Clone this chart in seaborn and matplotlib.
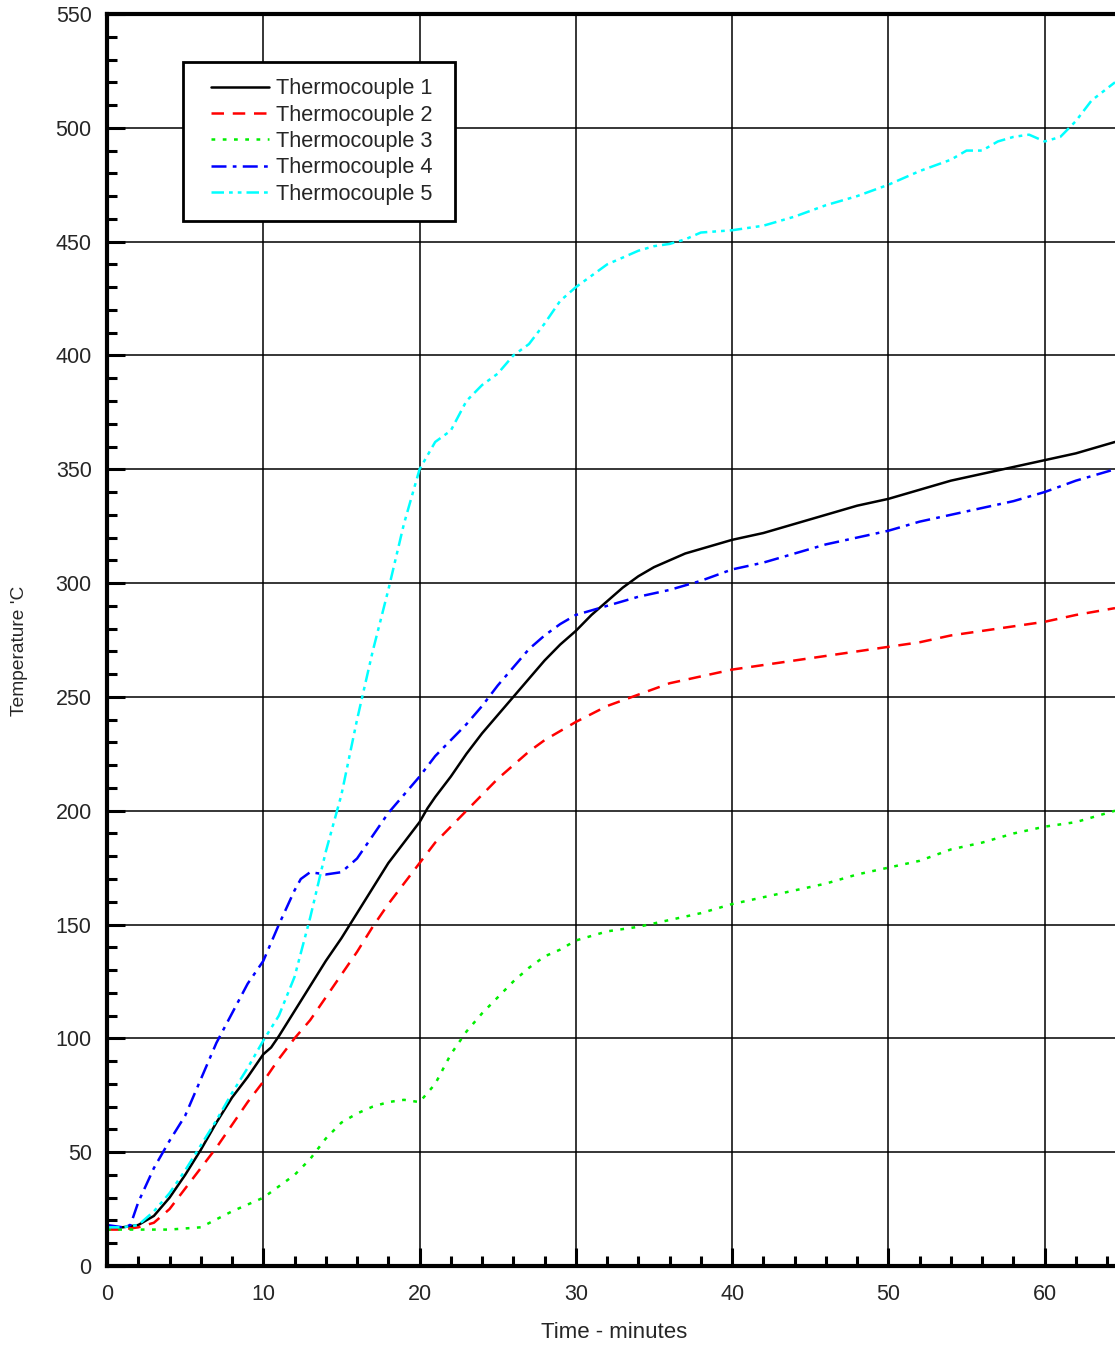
import numpy as np
import pandas as pd
import matplotlib
matplotlib.use("Agg")
import matplotlib.pyplot as plt
from matplotlib.lines import Line2D
from matplotlib.legend_handler import HandlerLine2D
from matplotlib.ticker import MultipleLocator
import seaborn as sns

# Temperature readings (deg C) against time (minutes)
t1_time = [0, 1, 2, 3, 4, 5, 6, 7, 8, 9, 9.5, 10, 10.5, 11, 12, 13, 14, 15, 16, 17, 18, 19, 20,
           20.5, 21, 22, 23, 24, 25, 26, 27, 28, 29, 30, 31, 32, 33, 34, 35, 36, 37, 38, 39, 40,
           42, 44, 46, 48, 50, 52, 54, 56, 58, 60, 62, 63.5, 64.5]
t1_temp = [17, 17, 18, 22, 30, 40, 51, 63, 74, 83, 88, 93, 96, 101, 112, 123, 134, 144, 155, 166, 177, 186, 195,
           201, 206, 215, 225, 234, 242, 250, 258, 266, 273, 279, 286, 292, 298, 303, 307, 310, 313, 315, 317, 319,
           322, 326, 330, 334, 337, 341, 345, 348, 351, 354, 357, 360, 362]

t2_time = [0, 1, 2, 3, 4, 5, 6, 7, 8, 9, 10, 11, 12, 13, 14, 15, 16, 17, 18, 19, 20,
           21, 22, 23, 24, 25, 26, 27, 28, 29, 30, 32, 34, 36, 38, 40, 42, 44, 46, 48, 50,
           52, 54, 56, 58, 60, 62, 64.5]
t2_temp = [16, 16, 17, 19, 25, 34, 43, 52, 62, 72, 81, 91, 100, 108, 118, 128, 138, 149, 159, 168, 177,
           186, 193, 200, 207, 214, 220, 226, 231, 235, 239, 246, 251, 256, 259, 262, 264, 266, 268, 270, 272,
           274, 277, 279, 281, 283, 286, 289]

t3_time = [0, 2, 4, 6, 8, 10, 12, 13, 14, 15, 16, 17, 18, 19, 20, 21, 22, 23, 24, 25, 26, 27, 28, 29, 30,
           32, 34, 36, 38, 40, 42, 44, 46, 48, 50, 52, 54, 56, 58, 60, 62, 64.5]
t3_temp = [16, 16, 16, 17, 24, 30, 40, 47, 56, 63, 67, 70, 72, 73, 72, 80, 93, 103, 111, 118, 125, 131, 136, 139, 143,
           147, 149, 152, 155, 159, 162, 165, 168, 172, 175, 178, 183, 186, 190, 193, 195, 200]

t4_time = [0, 1, 1.5, 2, 3, 4, 5, 6, 7, 8, 9, 10, 11, 12, 12.4, 13, 14, 15, 16, 17, 18, 19, 20,
           21, 22, 23, 24, 25, 26, 27, 28, 29, 30, 32, 34, 36, 38, 40, 42, 44, 46, 48, 50,
           52, 54, 56, 58, 60, 62, 64.5]
t4_temp = [18, 17, 18, 28, 43, 55, 66, 82, 98, 111, 124, 134, 150, 165, 170, 173, 172, 173, 179, 189, 199, 207, 215,
           224, 231, 238, 246, 255, 263, 271, 277, 282, 286, 290, 294, 297, 301, 306, 309, 313, 317, 320, 323,
           327, 330, 333, 336, 340, 345, 350]

t5_time = [0, 1, 2, 3, 4, 5, 6, 7, 8, 9, 10, 11, 12, 13, 14, 15, 16, 17, 18, 19, 20,
           21, 22, 23, 24, 25, 26, 27, 28, 29, 30, 31, 32, 33, 34, 35, 36, 37, 38, 40,
           42, 44, 46, 48, 50, 52, 54, 55, 56, 57, 58, 59, 60, 61, 62, 63, 64.5]
t5_temp = [17, 17, 18, 24, 32, 42, 53, 64, 76, 87, 99, 110, 127, 153, 182, 207, 240, 270, 297, 326, 350,
           362, 367, 380, 387, 392, 400, 405, 414, 424, 430, 435, 440, 443, 446, 448, 449, 451, 454, 455,
           457, 461, 466, 470, 475, 481, 486, 490, 490, 494, 496, 497, 494, 496, 503, 512, 520]

series = ["Thermocouple 1", "Thermocouple 2", "Thermocouple 3", "Thermocouple 4", "Thermocouple 5"]
times = [t1_time, t2_time, t3_time, t4_time, t5_time]
temps = [t1_temp, t2_temp, t3_temp, t4_temp, t5_temp]

frames = []
for name, x, y in zip(series, times, temps):
    frames.append(pd.DataFrame({"Time": x, "Temperature": y, "Sensor": name}))
df = pd.concat(frames, ignore_index=True)

colors = {"Thermocouple 1": "black", "Thermocouple 2": "#ff0000", "Thermocouple 3": "#00ee00",
          "Thermocouple 4": "#0000ff", "Thermocouple 5": "#00ffff"}
dashes = {"Thermocouple 1": "",
          "Thermocouple 2": (5, 3.5),
          "Thermocouple 3": (1.5, 3),
          "Thermocouple 4": (6, 2.5, 1.5, 2.5),
          "Thermocouple 5": (5, 2, 1.5, 2, 1.5, 2)}


# legend sample line drawn only over the right part of the handle box (extra left padding)
class PaddedLine(HandlerLine2D):
    def get_xdata(self, legend, xdescent, ydescent, width, height, fontsize):
        xd = np.array([-xdescent + 0.17 * width, -xdescent + width])
        return xd, xd


sns.set_style("white")
plt.rcParams['font.family'] = ['Liberation Sans', 'DejaVu Sans']

fig = plt.figure(figsize=(11.15, 13.45), dpi=100)
ax = fig.add_axes([107 / 1115, 79 / 1345, 1008 / 1115, 1252 / 1345])

sns.lineplot(data=df, x="Time", y="Temperature", hue="Sensor", style="Sensor",
             palette=colors, dashes=dashes, linewidth=1.8, sort=False, ax=ax)

ax.set_xlim(0, 64.5)
ax.set_ylim(0, 550)
ax.xaxis.set_major_locator(MultipleLocator(10))
ax.xaxis.set_minor_locator(MultipleLocator(2))
ax.yaxis.set_major_locator(MultipleLocator(50))
ax.yaxis.set_minor_locator(MultipleLocator(10))
ax.grid(True, which="major", color="black", linewidth=1.1)
ax.tick_params(which="major", direction="in", length=13, width=2.2, labelsize=15.5,
               pad=11, bottom=True, left=True, top=False, right=False, color="black")
ax.tick_params(axis="x", which="major", pad=13)
ax.tick_params(which="minor", direction="in", length=7, width=2.2,
               bottom=True, left=True, top=False, right=False, color="black")

for side in ["left", "bottom", "top"]:
    ax.spines[side].set_linewidth(3)
    ax.spines[side].set_color("black")
ax.spines["right"].set_visible(False)

ax.set_xlabel("Time - minutes", fontsize=16)
ax.set_ylabel("Temperature 'C", fontsize=13.8)
ax.yaxis.set_label_coords(-0.078, 0.491)
ax.xaxis.set_label_coords(0.5035, -0.0445)
ax.xaxis.label.set_va("top")

handles, labels = ax.get_legend_handles_labels()
labels = [lab + " " for lab in labels]
leg = ax.legend(handles, labels, loc="upper left", bbox_to_anchor=(0.0754, 0.9617), borderaxespad=0,
                fontsize=15.7, handlelength=3.2, frameon=True, fancybox=False,
                borderpad=0.75, labelspacing=0.245, handletextpad=0.3,
                handler_map={Line2D: PaddedLine()})
leg.get_frame().set_edgecolor("black")
leg.get_frame().set_linewidth(2)
leg.get_frame().set_alpha(1)

plt.savefig("out.png", dpi=100)
